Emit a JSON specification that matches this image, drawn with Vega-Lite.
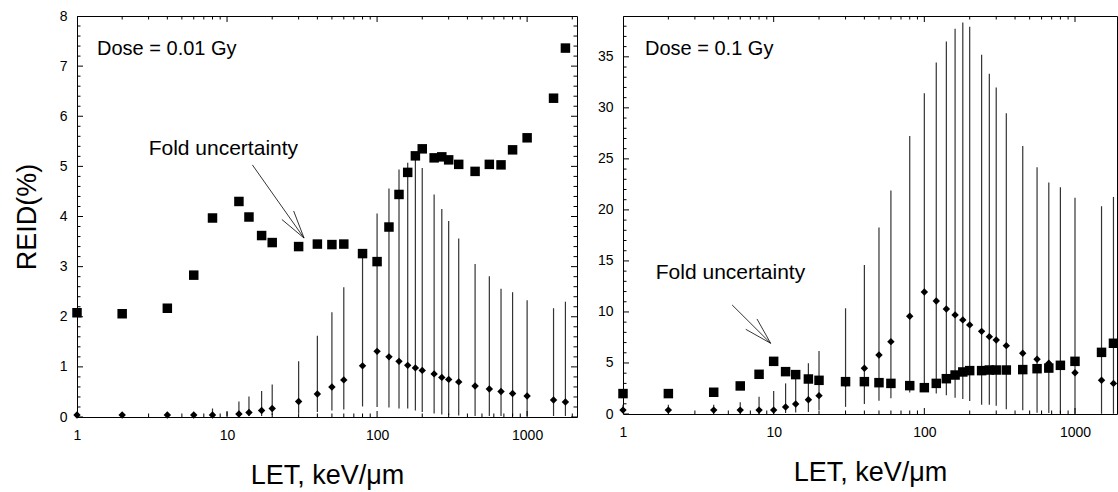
{
  "$schema": "https://vega.github.io/schema/vega-lite/v6.json",
  "padding": {"left": 12, "top": 8, "right": 0, "bottom": 2},
  "background": "white",
  "bounds": "flush",
  "spacing": 46,
  "config": {
    "view": {"stroke": "black", "strokeWidth": 1},
    "axis": {
      "grid": false, "domain": false,
      "labelFont": "Liberation Sans", "labelFontSize": 14, "labelColor": "black",
      "titleFont": "Liberation Sans", "titleFontSize": 27, "titleFontWeight": "normal", "titleColor": "black",
      "labelFlush": false
    }
  },
  "datasets": {
    "left": [
      {"let": 1, "sq": 2.08, "di": 0.04, "lo": null, "hi": null},
      {"let": 2, "sq": 2.06, "di": 0.04, "lo": null, "hi": null},
      {"let": 4, "sq": 2.17, "di": 0.04, "lo": null, "hi": null},
      {"let": 6, "sq": 2.83, "di": 0.04, "lo": null, "hi": null},
      {"let": 8, "sq": 3.97, "di": 0.04, "lo": 0.02, "hi": 0.17},
      {"let": 10, "sq": null, "di": null, "lo": 0.02, "hi": 0.10},
      {"let": 12, "sq": 4.30, "di": 0.06, "lo": 0.02, "hi": 0.31},
      {"let": 14, "sq": 3.99, "di": 0.09, "lo": 0.02, "hi": 0.41},
      {"let": 17, "sq": 3.62, "di": 0.13, "lo": 0.02, "hi": 0.52},
      {"let": 20, "sq": 3.48, "di": 0.17, "lo": 0.04, "hi": 0.65},
      {"let": 30, "sq": 3.40, "di": 0.31, "lo": 0.07, "hi": 1.11},
      {"let": 40, "sq": 3.45, "di": 0.46, "lo": 0.10, "hi": 1.62},
      {"let": 50, "sq": 3.44, "di": 0.60, "lo": 0.13, "hi": 2.09},
      {"let": 60, "sq": 3.45, "di": 0.74, "lo": 0.15, "hi": 2.59},
      {"let": 80, "sq": 3.26, "di": 1.02, "lo": 0.21, "hi": 3.20},
      {"let": 100, "sq": 3.10, "di": 1.31, "lo": 0.20, "hi": 4.06},
      {"let": 120, "sq": 3.79, "di": 1.20, "lo": 0.19, "hi": 4.56},
      {"let": 140, "sq": 4.44, "di": 1.11, "lo": 0.17, "hi": 4.94},
      {"let": 160, "sq": 4.88, "di": 1.03, "lo": 0.17, "hi": 5.07},
      {"let": 180, "sq": 5.21, "di": 0.98, "lo": 0.13, "hi": 5.15},
      {"let": 200, "sq": 5.35, "di": 0.93, "lo": 0.10, "hi": 4.97},
      {"let": 240, "sq": 5.17, "di": 0.86, "lo": 0.07, "hi": 4.44},
      {"let": 270, "sq": 5.19, "di": 0.79, "lo": 0.05, "hi": 4.15},
      {"let": 300, "sq": 5.13, "di": 0.75, "lo": 0.04, "hi": 3.91},
      {"let": 350, "sq": 5.04, "di": 0.70, "lo": 0.03, "hi": 3.56},
      {"let": 450, "sq": 4.90, "di": 0.62, "lo": 0.02, "hi": 3.05},
      {"let": 560, "sq": 5.04, "di": 0.56, "lo": 0.02, "hi": 2.81},
      {"let": 670, "sq": 5.03, "di": 0.51, "lo": 0.02, "hi": 2.56},
      {"let": 800, "sq": 5.33, "di": 0.47, "lo": 0.02, "hi": 2.49},
      {"let": 1000, "sq": 5.57, "di": 0.42, "lo": 0.02, "hi": 2.33},
      {"let": 1500, "sq": 6.36, "di": 0.34, "lo": 0.02, "hi": 2.17},
      {"let": 1800, "sq": 7.36, "di": 0.30, "lo": 0.02, "hi": 2.30}
    ],
    "right": [
      {"let": 1, "sq": 2.0, "di": 0.38, "lo": 0.1, "hi": 0.9},
      {"let": 2, "sq": 2.0, "di": 0.38, "lo": 0.1, "hi": 0.9},
      {"let": 4, "sq": 2.13, "di": 0.38, "lo": 0.1, "hi": 0.9},
      {"let": 6, "sq": 2.75, "di": 0.38, "lo": 0.1, "hi": 1.15},
      {"let": 8, "sq": 3.89, "di": 0.38, "lo": 0.05, "hi": 1.7},
      {"let": 10, "sq": 5.16, "di": 0.38, "lo": 0.05, "hi": 2.25},
      {"let": 12, "sq": 4.15, "di": 0.69, "lo": 0.1, "hi": 3.0},
      {"let": 14, "sq": 3.86, "di": 0.98, "lo": 0.15, "hi": 3.9},
      {"let": 17, "sq": 3.43, "di": 1.4, "lo": 0.2, "hi": 4.97},
      {"let": 20, "sq": 3.30, "di": 1.8, "lo": 0.4, "hi": 6.18},
      {"let": 30, "sq": 3.17, "di": 3.0, "lo": 0.7, "hi": 10.36},
      {"let": 40, "sq": 3.17, "di": 4.48, "lo": 0.98, "hi": 14.6},
      {"let": 50, "sq": 3.07, "di": 5.78, "lo": 1.31, "hi": 18.27},
      {"let": 60, "sq": 3.0, "di": 7.09, "lo": 1.54, "hi": 21.9},
      {"let": 80, "sq": 2.78, "di": 9.58, "lo": 2.1, "hi": 27.25},
      {"let": 100, "sq": 2.58, "di": 11.96, "lo": 2.2, "hi": 31.44},
      {"let": 120, "sq": 3.0, "di": 11.08, "lo": 2.0, "hi": 34.45},
      {"let": 140, "sq": 3.46, "di": 10.29, "lo": 1.83, "hi": 36.5},
      {"let": 160, "sq": 3.82, "di": 9.71, "lo": 1.6, "hi": 37.75},
      {"let": 180, "sq": 4.12, "di": 9.22, "lo": 1.47, "hi": 38.36},
      {"let": 200, "sq": 4.25, "di": 8.73, "lo": 1.27, "hi": 37.94},
      {"let": 240, "sq": 4.25, "di": 8.1, "lo": 0.9, "hi": 35.2},
      {"let": 270, "sq": 4.31, "di": 7.58, "lo": 0.9, "hi": 33.33},
      {"let": 300, "sq": 4.31, "di": 7.25, "lo": 0.8, "hi": 32.0},
      {"let": 350, "sq": 4.31, "di": 6.7, "lo": 0.47, "hi": 29.48},
      {"let": 450, "sq": 4.35, "di": 5.95, "lo": 0.36, "hi": 26.27},
      {"let": 560, "sq": 4.44, "di": 5.36, "lo": 0.13, "hi": 24.19},
      {"let": 670, "sq": 4.5, "di": 4.97, "lo": 0.1, "hi": 22.68},
      {"let": 800, "sq": 4.77, "di": 4.64, "lo": 0.05, "hi": 22.22},
      {"let": 1000, "sq": 5.16, "di": 4.05, "lo": 0.03, "hi": 21.18},
      {"let": 1500, "sq": 6.04, "di": 3.3, "lo": 0.02, "hi": 20.36},
      {"let": 1800, "sq": 6.93, "di": 3.0, "lo": 0.02, "hi": 21.27}
    ],
    "xTicksLeft": [
      {"v": 1, "kind": "major"}, {"v": 10, "kind": "major"}, {"v": 100, "kind": "major"}, {"v": 1000, "kind": "major"},
      {"v": 2, "kind": "minor"}, {"v": 3, "kind": "minor"}, {"v": 4, "kind": "minor"}, {"v": 5, "kind": "minor"}, {"v": 6, "kind": "minor"}, {"v": 7, "kind": "minor"}, {"v": 8, "kind": "minor"}, {"v": 9, "kind": "minor"},
      {"v": 20, "kind": "minor"}, {"v": 30, "kind": "minor"}, {"v": 40, "kind": "minor"}, {"v": 50, "kind": "minor"}, {"v": 60, "kind": "minor"}, {"v": 70, "kind": "minor"}, {"v": 80, "kind": "minor"}, {"v": 90, "kind": "minor"},
      {"v": 200, "kind": "minor"}, {"v": 300, "kind": "minor"}, {"v": 400, "kind": "minor"}, {"v": 500, "kind": "minor"}, {"v": 600, "kind": "minor"}, {"v": 700, "kind": "minor"}, {"v": 800, "kind": "minor"}, {"v": 900, "kind": "minor"},
      {"v": 2000, "kind": "minor"}
    ],
    "xTicksRight": [
      {"v": 1, "kind": "major"}, {"v": 10, "kind": "major"}, {"v": 100, "kind": "major"}, {"v": 1000, "kind": "major"},
      {"v": 2, "kind": "minor"}, {"v": 3, "kind": "minor"}, {"v": 4, "kind": "minor"}, {"v": 5, "kind": "minor"}, {"v": 6, "kind": "minor"}, {"v": 7, "kind": "minor"}, {"v": 8, "kind": "minor"}, {"v": 9, "kind": "minor"},
      {"v": 20, "kind": "minor"}, {"v": 30, "kind": "minor"}, {"v": 40, "kind": "minor"}, {"v": 50, "kind": "minor"}, {"v": 60, "kind": "minor"}, {"v": 70, "kind": "minor"}, {"v": 80, "kind": "minor"}, {"v": 90, "kind": "minor"},
      {"v": 200, "kind": "minor"}, {"v": 300, "kind": "minor"}, {"v": 400, "kind": "minor"}, {"v": 500, "kind": "minor"}, {"v": 600, "kind": "minor"}, {"v": 700, "kind": "minor"}, {"v": 800, "kind": "minor"}, {"v": 900, "kind": "minor"}
    ],
    "yTicksLeft": [
      {"v": 0, "kind": "major"}, {"v": 1, "kind": "major"}, {"v": 2, "kind": "major"}, {"v": 3, "kind": "major"}, {"v": 4, "kind": "major"}, {"v": 5, "kind": "major"}, {"v": 6, "kind": "major"}, {"v": 7, "kind": "major"}, {"v": 8, "kind": "major"},
      {"v": 0.2, "kind": "minor"}, {"v": 0.4, "kind": "minor"}, {"v": 0.6, "kind": "minor"}, {"v": 0.8, "kind": "minor"},
      {"v": 1.2, "kind": "minor"}, {"v": 1.4, "kind": "minor"}, {"v": 1.6, "kind": "minor"}, {"v": 1.8, "kind": "minor"},
      {"v": 2.2, "kind": "minor"}, {"v": 2.4, "kind": "minor"}, {"v": 2.6, "kind": "minor"}, {"v": 2.8, "kind": "minor"},
      {"v": 3.2, "kind": "minor"}, {"v": 3.4, "kind": "minor"}, {"v": 3.6, "kind": "minor"}, {"v": 3.8, "kind": "minor"},
      {"v": 4.2, "kind": "minor"}, {"v": 4.4, "kind": "minor"}, {"v": 4.6, "kind": "minor"}, {"v": 4.8, "kind": "minor"},
      {"v": 5.2, "kind": "minor"}, {"v": 5.4, "kind": "minor"}, {"v": 5.6, "kind": "minor"}, {"v": 5.8, "kind": "minor"},
      {"v": 6.2, "kind": "minor"}, {"v": 6.4, "kind": "minor"}, {"v": 6.6, "kind": "minor"}, {"v": 6.8, "kind": "minor"},
      {"v": 7.2, "kind": "minor"}, {"v": 7.4, "kind": "minor"}, {"v": 7.6, "kind": "minor"}, {"v": 7.8, "kind": "minor"}
    ],
    "yTicksRight": [
      {"v": 0, "kind": "major"}, {"v": 5, "kind": "major"}, {"v": 10, "kind": "major"}, {"v": 15, "kind": "major"}, {"v": 20, "kind": "major"}, {"v": 25, "kind": "major"}, {"v": 30, "kind": "major"}, {"v": 35, "kind": "major"},
      {"v": 1, "kind": "minor"}, {"v": 2, "kind": "minor"}, {"v": 3, "kind": "minor"}, {"v": 4, "kind": "minor"},
      {"v": 6, "kind": "minor"}, {"v": 7, "kind": "minor"}, {"v": 8, "kind": "minor"}, {"v": 9, "kind": "minor"},
      {"v": 11, "kind": "minor"}, {"v": 12, "kind": "minor"}, {"v": 13, "kind": "minor"}, {"v": 14, "kind": "minor"},
      {"v": 16, "kind": "minor"}, {"v": 17, "kind": "minor"}, {"v": 18, "kind": "minor"}, {"v": 19, "kind": "minor"},
      {"v": 21, "kind": "minor"}, {"v": 22, "kind": "minor"}, {"v": 23, "kind": "minor"}, {"v": 24, "kind": "minor"},
      {"v": 26, "kind": "minor"}, {"v": 27, "kind": "minor"}, {"v": 28, "kind": "minor"}, {"v": 29, "kind": "minor"},
      {"v": 31, "kind": "minor"}, {"v": 32, "kind": "minor"}, {"v": 33, "kind": "minor"}, {"v": 34, "kind": "minor"},
      {"v": 36, "kind": "minor"}, {"v": 37, "kind": "minor"}, {"v": 38, "kind": "minor"}
    ],
    "leftDose": [{"x": 1.36, "y": 7.35, "label": "Dose = 0.01 Gy"}],
    "leftFold": [{"x": 9.45, "y": 5.34, "label": "Fold uncertainty"}],
    "leftArrow": [
      {"x": 14.75, "y": 5.03, "x2": 32.6, "y2": 3.57},
      {"x": 27.8, "y": 4.11, "x2": 32.6, "y2": 3.57},
      {"x": 23.2, "y": 3.94, "x2": 32.6, "y2": 3.57}
    ],
    "rightDose": [{"x": 1.40, "y": 35.75, "label": "Dose = 0.1 Gy"}],
    "rightFold": [{"x": 5.17, "y": 13.85, "label": "Fold uncertainty"}],
    "rightArrow": [
      {"x": 5.3, "y": 10.69, "x2": 9.55, "y2": 6.93},
      {"x": 7.75, "y": 9.31, "x2": 9.55, "y2": 6.93},
      {"x": 6.53, "y": 8.3, "x2": 9.55, "y2": 6.93}
    ]
  },
  "hconcat": [
    {
      "width": 500,
      "height": 401,
      "resolve": {"axis": {"x": "independent", "y": "independent"}},
      "layer": [
        {
          "data": {"name": "left"},
          "mark": {"type": "rule", "color": "#333", "strokeWidth": 1.2},
          "encoding": {
            "x": {"field": "let", "type": "quantitative", "scale": {"type": "log", "domain": [1, 2150]},
                  "axis": {"orient": "bottom", "values": [1, 10, 100, 1000], "format": "d", "ticks": false, "labelPadding": 11, "title": "LET, keV/μm", "titlePadding": 20}},
            "y": {"field": "lo", "type": "quantitative", "scale": {"domain": [0, 8]},
                  "axis": {"orient": "left", "values": [0, 1, 2, 3, 4, 5, 6, 7, 8], "ticks": false, "labelPadding": 10, "title": "REID(%)", "titlePadding": 18}},
            "y2": {"field": "hi"}
          }
        },
        {
          "data": {"name": "xTicksLeft"},
          "mark": {"type": "tick", "orient": "vertical", "clip": true, "color": "black", "thickness": 1, "opacity": 1},
          "encoding": {
            "x": {"field": "v", "type": "quantitative", "scale": {"type": "log", "domain": [1, 2150]}, "axis": null},
            "y": {"datum": 0, "type": "quantitative", "scale": {"domain": [0, 8]}, "axis": null},
            "size": {"field": "kind", "type": "ordinal", "scale": {"domain": ["major", "minor"], "range": [12, 7]}, "legend": null}
          }
        },
        {
          "data": {"name": "xTicksLeft"},
          "mark": {"type": "tick", "orient": "vertical", "clip": true, "color": "black", "thickness": 1, "opacity": 1},
          "encoding": {
            "x": {"field": "v", "type": "quantitative", "scale": {"type": "log", "domain": [1, 2150]}, "axis": null},
            "y": {"datum": 8, "type": "quantitative", "scale": {"domain": [0, 8]}, "axis": null},
            "size": {"field": "kind", "type": "ordinal", "scale": {"domain": ["major", "minor"], "range": [12, 7]}, "legend": null}
          }
        },
        {
          "data": {"name": "yTicksLeft"},
          "mark": {"type": "tick", "orient": "horizontal", "clip": true, "color": "black", "thickness": 1, "opacity": 1},
          "encoding": {
            "x": {"datum": 1, "type": "quantitative", "scale": {"type": "log", "domain": [1, 2150]}, "axis": null},
            "y": {"field": "v", "type": "quantitative", "scale": {"domain": [0, 8]}, "axis": null},
            "size": {"field": "kind", "type": "ordinal", "scale": {"domain": ["major", "minor"], "range": [12, 7]}, "legend": null}
          }
        },
        {
          "data": {"name": "yTicksLeft"},
          "mark": {"type": "tick", "orient": "horizontal", "clip": true, "color": "black", "thickness": 1, "opacity": 1},
          "encoding": {
            "x": {"datum": 2150, "type": "quantitative", "scale": {"type": "log", "domain": [1, 2150]}, "axis": null},
            "y": {"field": "v", "type": "quantitative", "scale": {"domain": [0, 8]}, "axis": null},
            "size": {"field": "kind", "type": "ordinal", "scale": {"domain": ["major", "minor"], "range": [12, 7]}, "legend": null}
          }
        },
        {
          "data": {"name": "left"},
          "mark": {"type": "point", "shape": "square", "filled": true, "color": "black", "size": 90, "opacity": 1},
          "encoding": {
            "x": {"field": "let", "type": "quantitative", "scale": {"type": "log", "domain": [1, 2150]}, "axis": null},
            "y": {"field": "sq", "type": "quantitative", "scale": {"domain": [0, 8]}, "axis": null}
          }
        },
        {
          "data": {"name": "left"},
          "mark": {"type": "point", "shape": "diamond", "filled": true, "color": "black", "size": 55, "opacity": 1},
          "encoding": {
            "x": {"field": "let", "type": "quantitative", "scale": {"type": "log", "domain": [1, 2150]}, "axis": null},
            "y": {"field": "di", "type": "quantitative", "scale": {"domain": [0, 8]}, "axis": null}
          }
        },
        {
          "data": {"name": "leftDose"},
          "mark": {"type": "text", "align": "left", "baseline": "middle", "font": "Liberation Sans", "fontSize": 20, "color": "black"},
          "encoding": {
            "x": {"field": "x", "type": "quantitative", "scale": {"type": "log", "domain": [1, 2150]}, "axis": null},
            "y": {"field": "y", "type": "quantitative", "scale": {"domain": [0, 8]}, "axis": null},
            "text": {"field": "label"}
          }
        },
        {
          "data": {"name": "leftFold"},
          "mark": {"type": "text", "align": "center", "baseline": "middle", "font": "Liberation Sans", "fontSize": 21, "color": "black"},
          "encoding": {
            "x": {"field": "x", "type": "quantitative", "scale": {"type": "log", "domain": [1, 2150]}, "axis": null},
            "y": {"field": "y", "type": "quantitative", "scale": {"domain": [0, 8]}, "axis": null},
            "text": {"field": "label"}
          }
        },
        {
          "data": {"name": "leftArrow"},
          "mark": {"type": "rule", "color": "black", "strokeWidth": 0.8},
          "encoding": {
            "x": {"field": "x", "type": "quantitative", "scale": {"type": "log", "domain": [1, 2150]}, "axis": null},
            "y": {"field": "y", "type": "quantitative", "scale": {"domain": [0, 8]}, "axis": null},
            "x2": {"field": "x2"},
            "y2": {"field": "y2"}
          }
        }
      ]
    },
    {
      "width": 494,
      "height": 398,
      "resolve": {"axis": {"x": "independent", "y": "independent"}},
      "layer": [
        {
          "data": {"name": "right"},
          "mark": {"type": "rule", "color": "#333", "strokeWidth": 1.2},
          "encoding": {
            "x": {"field": "let", "type": "quantitative", "scale": {"type": "log", "domain": [1, 1900]},
                  "axis": {"orient": "bottom", "values": [1, 10, 100, 1000], "format": "d", "ticks": false, "labelPadding": 11, "title": "LET, keV/μm", "titlePadding": 20}},
            "y": {"field": "lo", "type": "quantitative", "scale": {"domain": [0, 39]},
                  "axis": {"orient": "left", "values": [0, 5, 10, 15, 20, 25, 30, 35], "ticks": false, "labelPadding": 10, "title": null}},
            "y2": {"field": "hi"}
          }
        },
        {
          "data": {"name": "xTicksRight"},
          "mark": {"type": "tick", "orient": "vertical", "clip": true, "color": "black", "thickness": 1, "opacity": 1},
          "encoding": {
            "x": {"field": "v", "type": "quantitative", "scale": {"type": "log", "domain": [1, 1900]}, "axis": null},
            "y": {"datum": 0, "type": "quantitative", "scale": {"domain": [0, 39]}, "axis": null},
            "size": {"field": "kind", "type": "ordinal", "scale": {"domain": ["major", "minor"], "range": [12, 7]}, "legend": null}
          }
        },
        {
          "data": {"name": "xTicksRight"},
          "mark": {"type": "tick", "orient": "vertical", "clip": true, "color": "black", "thickness": 1, "opacity": 1},
          "encoding": {
            "x": {"field": "v", "type": "quantitative", "scale": {"type": "log", "domain": [1, 1900]}, "axis": null},
            "y": {"datum": 39, "type": "quantitative", "scale": {"domain": [0, 39]}, "axis": null},
            "size": {"field": "kind", "type": "ordinal", "scale": {"domain": ["major", "minor"], "range": [12, 7]}, "legend": null}
          }
        },
        {
          "data": {"name": "yTicksRight"},
          "mark": {"type": "tick", "orient": "horizontal", "clip": true, "color": "black", "thickness": 1, "opacity": 1},
          "encoding": {
            "x": {"datum": 1, "type": "quantitative", "scale": {"type": "log", "domain": [1, 1900]}, "axis": null},
            "y": {"field": "v", "type": "quantitative", "scale": {"domain": [0, 39]}, "axis": null},
            "size": {"field": "kind", "type": "ordinal", "scale": {"domain": ["major", "minor"], "range": [12, 7]}, "legend": null}
          }
        },
        {
          "data": {"name": "right"},
          "mark": {"type": "point", "shape": "square", "filled": true, "color": "black", "size": 90, "opacity": 1},
          "encoding": {
            "x": {"field": "let", "type": "quantitative", "scale": {"type": "log", "domain": [1, 1900]}, "axis": null},
            "y": {"field": "sq", "type": "quantitative", "scale": {"domain": [0, 39]}, "axis": null}
          }
        },
        {
          "data": {"name": "right"},
          "mark": {"type": "point", "shape": "diamond", "filled": true, "color": "black", "size": 55, "opacity": 1},
          "encoding": {
            "x": {"field": "let", "type": "quantitative", "scale": {"type": "log", "domain": [1, 1900]}, "axis": null},
            "y": {"field": "di", "type": "quantitative", "scale": {"domain": [0, 39]}, "axis": null}
          }
        },
        {
          "data": {"name": "rightDose"},
          "mark": {"type": "text", "align": "left", "baseline": "middle", "font": "Liberation Sans", "fontSize": 20, "color": "black"},
          "encoding": {
            "x": {"field": "x", "type": "quantitative", "scale": {"type": "log", "domain": [1, 1900]}, "axis": null},
            "y": {"field": "y", "type": "quantitative", "scale": {"domain": [0, 39]}, "axis": null},
            "text": {"field": "label"}
          }
        },
        {
          "data": {"name": "rightFold"},
          "mark": {"type": "text", "align": "center", "baseline": "middle", "font": "Liberation Sans", "fontSize": 21, "color": "black"},
          "encoding": {
            "x": {"field": "x", "type": "quantitative", "scale": {"type": "log", "domain": [1, 1900]}, "axis": null},
            "y": {"field": "y", "type": "quantitative", "scale": {"domain": [0, 39]}, "axis": null},
            "text": {"field": "label"}
          }
        },
        {
          "data": {"name": "rightArrow"},
          "mark": {"type": "rule", "color": "black", "strokeWidth": 0.8},
          "encoding": {
            "x": {"field": "x", "type": "quantitative", "scale": {"type": "log", "domain": [1, 1900]}, "axis": null},
            "y": {"field": "y", "type": "quantitative", "scale": {"domain": [0, 39]}, "axis": null},
            "x2": {"field": "x2"},
            "y2": {"field": "y2"}
          }
        }
      ]
    }
  ]
}
